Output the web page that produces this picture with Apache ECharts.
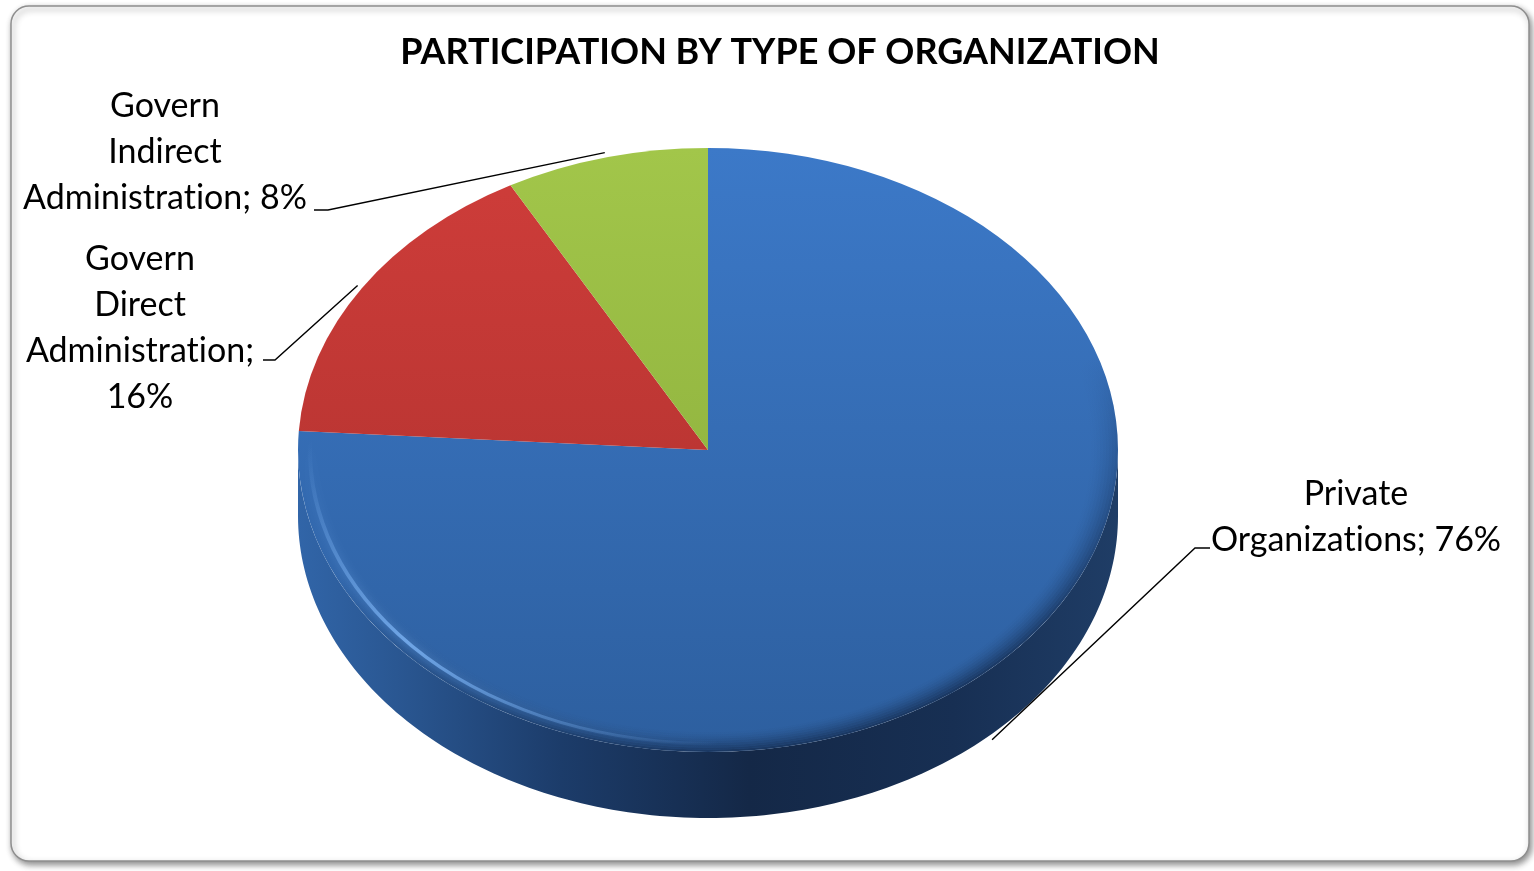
<!DOCTYPE html>
<html>
<head>
<meta charset="utf-8">
<script src="https://cdn.jsdelivr.net/npm/echarts@6/dist/echarts.min.js"></script>
<style>
  html, body { margin: 0; padding: 0; background: #ffffff; }
  #chart { width: 1534px; height: 871px; }
</style>
</head>
<body>
<div id="chart"></div>
<script>
// ---- data ----
const chartTitle = 'PARTICIPATION BY TYPE OF ORGANIZATION';
const categories = ['Private\nOrganizations', 'Govern\nDirect\nAdministration', 'Govern\nIndirect\nAdministration'];
const shares = [76, 16, 8];

// ---- look ----
const sliceColors = [
  { top: '#3c79c8', bottom: '#2d5f9f', sideStops: [[0, '#3165a8'], [0.12, '#2a5792'], [0.32, '#1c3c6a'], [0.55, '#142847'], [0.8, '#172f53'], [1, '#1f3d66']] },
  { top: '#cf3d3a', bottom: '#a92f2c', sideStops: [[0, '#8a2624'], [1, '#5e1918']] },
  { top: '#a2c64a', bottom: '#86a838', sideStops: [[0, '#6f8c2c'], [1, '#4d621e']] }
];
// how the value is joined to each label name
const valueSeparators = [' ', '\n', ' '];
// label placement: text block centre, elbow of the leader line, end of its short tail
const labelLayout = [
  { x: 1356, y: 517, elbow: [1195, 548], tail: [1210, 548] },
  { x: 140, y: 328, elbow: [275, 360], tail: [263, 360] },
  { x: 165, y: 152, elbow: [328, 210], tail: [314, 210] }
];

// ellipse of the tilted pie top and the thickness of its rim
const CX = 708, CY = 450, RX = 410, RY = 302, DEPTH = 66;
const SY = RY / RX;
const FONT = 'Lato, "Open Sans", sans-serif';

// keep "t" and "i" as separate glyphs (Lato would join them)
const plainGlyphs = s => s.replace(/ti/g, 't\u200Ci');

const total = shares.reduce((a, b) => a + b, 0);
const startFrac = [];
shares.reduce((acc, v) => { startFrac.push(acc / total); return acc + v; }, 0);
const angleOf = f => -Math.PI / 2 + f * Math.PI * 2;

function ellipsePt(t, dy) {
  return [CX + RX * Math.cos(t), CY + RY * Math.sin(t) + (dy || 0)];
}

function renderSlice(params, api) {
  const i = params.dataIndex;
  const v = api.value(0);
  const a1 = angleOf(startFrac[i]);
  const a2 = a1 + (v / total) * Math.PI * 2;
  const col = sliceColors[i];
  const children = [];

  // visible outer wall: the part of the arc that faces the viewer
  const lo = Math.max(a1, 0), hi = Math.min(a2, Math.PI);
  if (hi > lo) {
    const pts = [];
    const n = 160;
    for (let k = 0; k <= n; k++) pts.push(ellipsePt(lo + (hi - lo) * k / n, 0));
    for (let k = n; k >= 0; k--) pts.push(ellipsePt(lo + (hi - lo) * k / n, DEPTH));
    children.push({
      type: 'polygon',
      shape: { points: pts },
      style: {
        fill: {
          type: 'linear', global: true, x: CX - RX, y: 0, x2: CX + RX, y2: 0,
          colorStops: col.sideStops.map(s => ({ offset: s[0], color: s[1] }))
        }
      }
    });
  }

  // top face
  children.push({
    type: 'sector',
    shape: { cx: CX, cy: CY, r: RX, r0: 0, startAngle: a1, endAngle: a2, clockwise: true },
    originX: CX, originY: CY, scaleY: SY,
    style: {
      fill: {
        type: 'linear', global: true, x: 0, y: CY - RX, x2: 0, y2: CY + RX,
        colorStops: [{ offset: 0, color: col.top }, { offset: 1, color: col.bottom }]
      }
    }
  });

  // leader line
  const mid = (a1 + a2) / 2;
  const anchor = [
    CX + (RX + 5) * Math.cos(mid),
    CY + (RY + 5) * Math.sin(mid) + (Math.sin(mid) > 0 ? DEPTH : 0)
  ];
  const lay = labelLayout[i];
  children.push({
    type: 'polyline',
    shape: { points: [anchor, lay.elbow, lay.tail] },
    style: { stroke: '#000000', lineWidth: 1.4, fill: null }
  });

  // label text
  children.push({
    type: 'text',
    x: lay.x, y: lay.y,
    style: {
      text: plainGlyphs(categories[i] + ';' + valueSeparators[i] + v + '%'),
      fill: '#000000',
      fontFamily: FONT,
      fontSize: 34,
      lineHeight: 46,
      align: 'center',
      verticalAlign: 'middle'
    }
  });

  return { type: 'group', children };
}

// soft darkening near the lower and right rim of the top face
const rimRings = [];
const ringCount = 9, ringW = 3;
for (let k = 0; k < ringCount; k++) {
  const alpha = 0.6 * Math.pow(1 - k / ringCount, 1.5);
  rimRings.push({
    type: 'sector', silent: true, z: 5,
    shape: { cx: CX, cy: CY, r: RX - k * ringW, r0: RX - (k + 1) * ringW, startAngle: 0, endAngle: Math.PI * 2 },
    originX: CX, originY: CY, scaleY: SY,
    style: {
      fill: {
        type: 'linear', global: true,
        x: CX - 0.3 * RX, y: CY - 0.6 * RX, x2: CX + 0.3 * RX, y2: CY + 0.9 * RX,
        colorStops: [
          { offset: 0, color: 'rgba(14,30,58,0)' },
          { offset: 0.45, color: 'rgba(14,30,58,0)' },
          { offset: 1, color: 'rgba(14,30,58,' + alpha.toFixed(3) + ')' }
        ]
      }
    }
  });
}

// bevel highlight along the lower-left rim
const highlight = {
  type: 'arc', silent: true, z: 6,
  shape: { cx: CX, cy: CY, r: RX - 12, startAngle: Math.PI * 0.42, endAngle: Math.PI * 1.03, clockwise: true },
  originX: CX, originY: CY, scaleY: SY,
  style: {
    fill: null,
    lineWidth: 4,
    strokeNoScale: true,
    stroke: {
      type: 'linear', global: true, x: CX - RX, y: CY, x2: CX, y2: CY + RX,
      colorStops: [
        { offset: 0, color: 'rgba(120,175,240,0)' },
        { offset: 0.45, color: 'rgba(120,175,240,0.85)' },
        { offset: 1, color: 'rgba(120,175,240,0)' }
      ]
    },
    shadowBlur: 8,
    shadowColor: 'rgba(120,175,240,0.7)'
  }
};

const frame = {
  type: 'rect', silent: true, z: -1,
  shape: { x: 11, y: 6, width: 1518, height: 855, r: 18 },
  style: {
    fill: '#ffffff', stroke: '#8e8e8e', lineWidth: 1.5,
    shadowBlur: 6, shadowOffsetX: 2, shadowOffsetY: 3, shadowColor: 'rgba(0,0,0,0.45)'
  }
};

const chart = echarts.init(document.getElementById('chart'), null, { renderer: 'canvas' });
chart.setOption({
  animation: false,
  backgroundColor: '#ffffff',
  title: {
    text: chartTitle,
    left: 775, top: 29,
    textAlign: 'center',
    textStyle: { fontFamily: FONT, fontWeight: 'bold', fontSize: 36, color: '#000000' }
  },
  graphic: { elements: [frame].concat(rimRings, [highlight]) },
  series: [{
    type: 'custom',
    coordinateSystem: 'none',
    renderItem: renderSlice,
    data: shares.map((v, i) => ({ value: v, name: categories[i].replace(/\n/g, ' ') }))
  }]
});
</script>
</body>
</html>
